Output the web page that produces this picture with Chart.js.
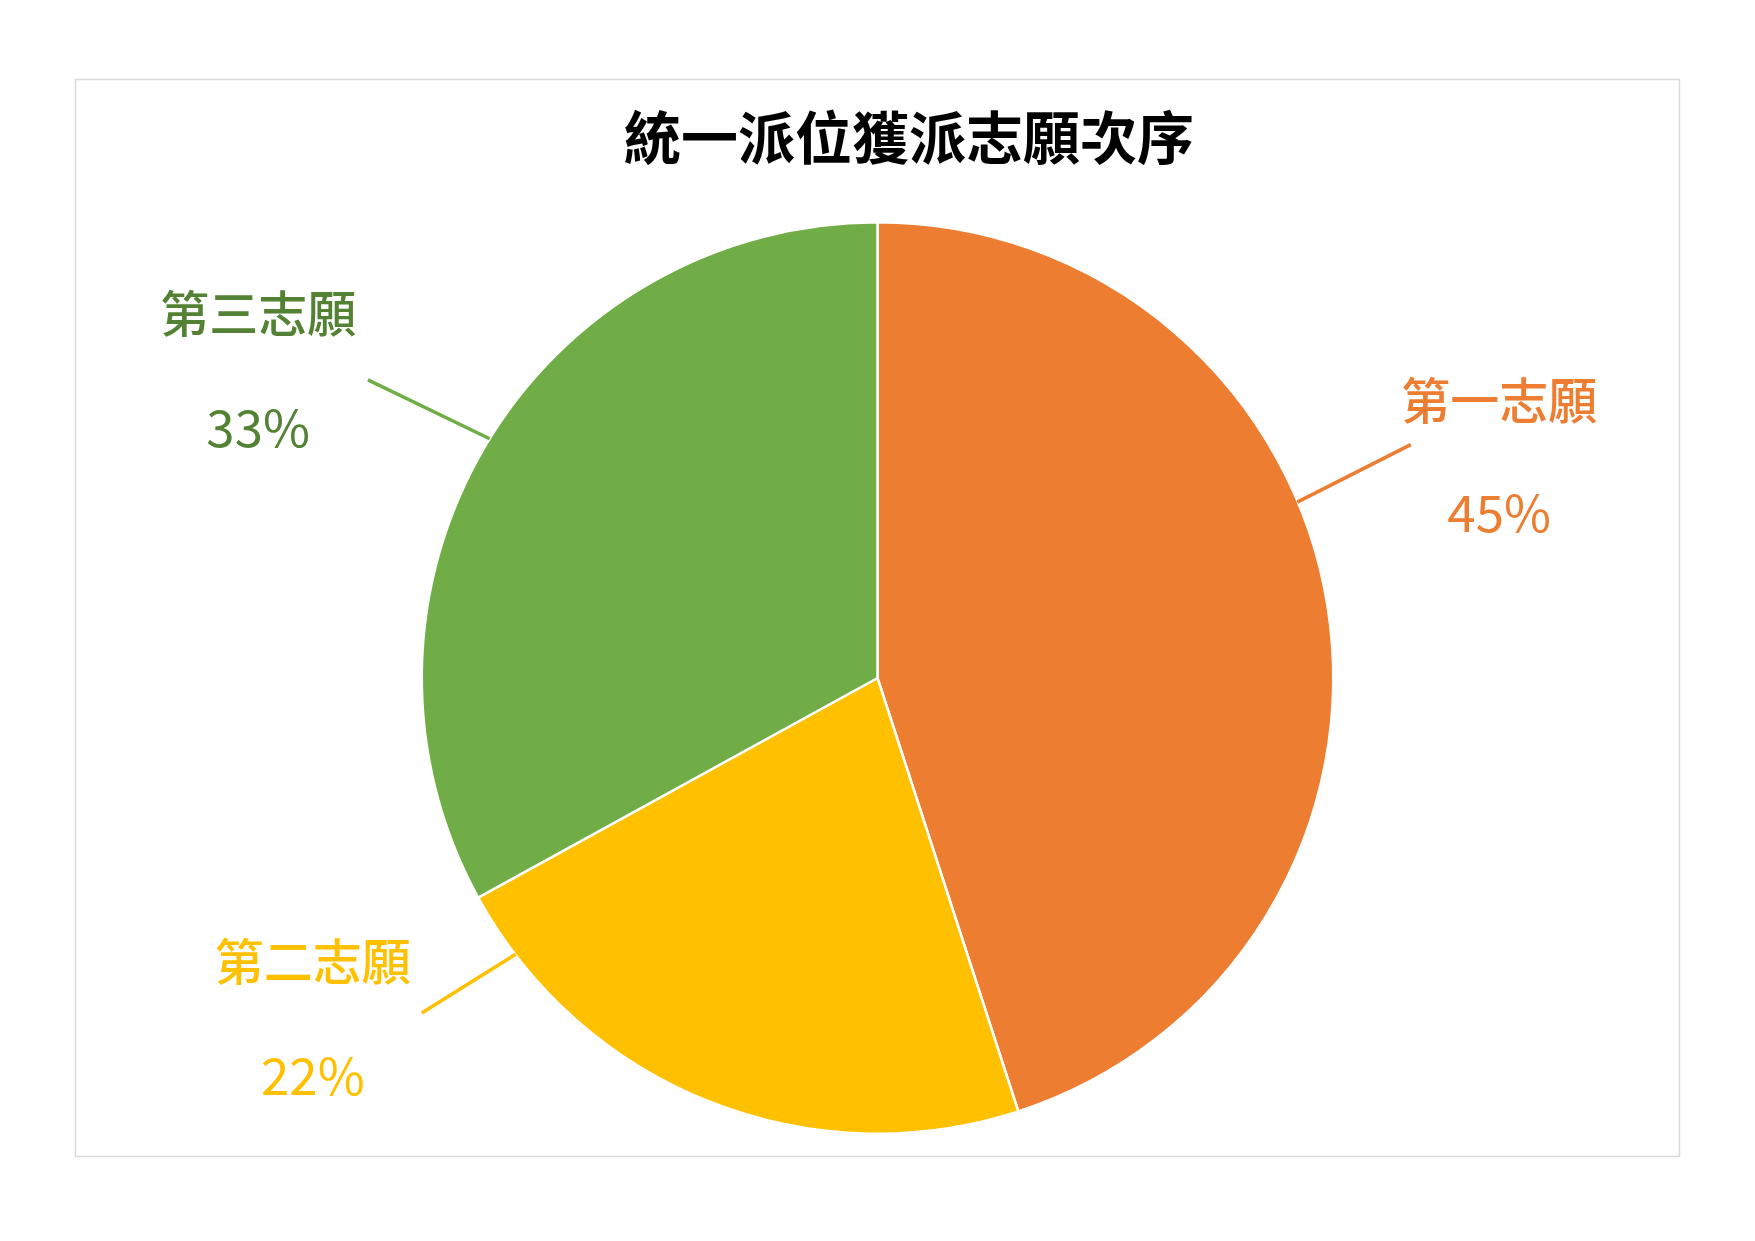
<!DOCTYPE html>
<html><head><meta charset="utf-8">
<script src="https://cdn.jsdelivr.net/npm/chart.js@4/dist/chart.umd.min.js"></script>
<style>html,body{margin:0;padding:0;background:#fff;}canvas{display:block;}</style>
</head><body>
<canvas id="c" width="1755" height="1241"></canvas>
<script>
const titleText = '統一派位獲派志願次序';
const categories = ['第一志願', '第二志願', '第三志願'];
const values = [45, 22, 33];
const sliceColors = ['#ED7D31', '#FFC000', '#70AD47'];
const labelColors = ['#ED7D31', '#FFC000', '#548235'];

// label layout, in units of the pie radius relative to the centre
const labelLayout = [
  {ls:[0.921,-0.386], le:[1.170,-0.512], name:[1.364,-0.610], pct:[1.364,-0.362]},
  {ls:[-0.794,0.606], le:[-1.0,0.735], name:[-1.239,0.621], pct:[-1.239,0.873]},
  {ls:[-0.851,-0.525], le:[-1.118,-0.654], name:[-1.359,-0.799], pct:[-1.359,-0.549]}
];

const decor = {
  id: 'decor',
  beforeDraw(chart) {
    const ctx = chart.ctx;
    ctx.save();
    ctx.fillStyle = '#fff';
    ctx.fillRect(0, 0, chart.width, chart.height);
    ctx.strokeStyle = '#D9D9D9';
    ctx.lineWidth = 1.5;
    ctx.strokeRect(75.5, 79.5, 1604, 1077);
    ctx.restore();
  },
  afterDraw(chart) {
    const ctx = chart.ctx;
    const meta = chart.getDatasetMeta(0);
    ctx.save();
    ctx.fillStyle = '#000';
    ctx.font = 'bold 57px "Noto Sans CJK TC"';
    ctx.textAlign = 'center';
    ctx.textBaseline = 'middle';
    ctx.fillText(titleText, 909, 137);
    const total = values.reduce((a, b) => a + b, 0);
    meta.data.forEach((arc, i) => {
      const cx = arc.x, cy = arc.y, r = arc.outerRadius;
      const L = labelLayout[i];
      ctx.strokeStyle = sliceColors[i];
      ctx.lineWidth = 3.5;
      ctx.beginPath();
      ctx.moveTo(cx + L.ls[0] * r, cy + L.ls[1] * r);
      ctx.lineTo(cx + L.le[0] * r, cy + L.le[1] * r);
      ctx.stroke();
      ctx.fillStyle = labelColors[i];
      ctx.font = '500 49px "Noto Sans CJK TC"';
      ctx.fillText(categories[i], cx + L.name[0] * r, cy + L.name[1] * r);
      ctx.font = '51px "Noto Sans CJK TC"';
      ctx.fillText(Math.round(values[i] / total * 100) + '%', cx + L.pct[0] * r, cy + L.pct[1] * r);
    });
    ctx.restore();
  }
};

new Chart(document.getElementById('c'), {
  type: 'pie',
  data: {
    labels: categories,
    datasets: [{
      data: values,
      backgroundColor: sliceColors,
      borderColor: '#ffffff',
      borderWidth: 2.5
    }]
  },
  options: {
    responsive: false,
    animation: false,
    devicePixelRatio: 1,
    layout: { padding: { top: 221, bottom: 106, left: 420, right: 420 } },
    plugins: { legend: { display: false }, tooltip: { enabled: false }, title: { display: false } }
  },
  plugins: [decor]
});
</script>
</body></html>
